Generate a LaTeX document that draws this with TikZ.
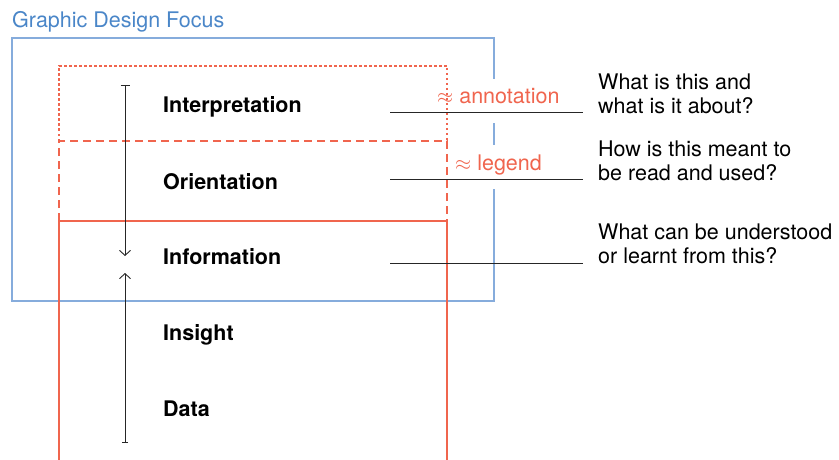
\documentclass[tikz,border=0pt]{standalone}
\usepackage{fontspec}
\setmainfont{TeX Gyre Heros}
\usetikzlibrary{arrows.meta}
\definecolor{focusblue}{HTML}{4A86C8}
\definecolor{frameblue}{HTML}{86ACDC}
\definecolor{framered}{HTML}{F0654E}

\begin{document}
\begin{tikzpicture}[x=1pt, y=-1pt, font=\fontsize{21.5}{23.5}\selectfont,
  layer/.style={anchor=base west, inner sep=0pt, font=\fontsize{21.5}{23.5}\selectfont\bfseries},
  aside/.style={anchor=base west, inner sep=0pt, text=framered, fill=white, text height=25pt, text depth=19pt},
  ask/.style={anchor=north west, inner sep=0pt, align=left},
  lead/.style={draw=black!85, line width=1pt},
  redline/.style={draw=framered, line width=1.6pt}]
  \useasboundingbox (0,0) rectangle (839,460);
  % focus frame and its title
  \node[anchor=base west, inner sep=0pt, text=focusblue] (focus) at (12,28) {Graphic Design Focus};
  \draw[frameblue, line width=1.4pt] (12,38) rectangle (494,301);
  % side labels (white box breaks the blue edge)
  \node[aside] (ann) at (437,104) {$\approx$ annotation};
  \node[aside] (leg) at (455,170) {$\approx$ legend};
  % red frame: dotted, dashed, solid
  \draw[redline, dash pattern=on 2.5pt off 2.5pt] (59,141) -- (59,66) -- (447,66) -- (447,141);
  \draw[redline, dash pattern=on 8pt off 5pt] (59,221) -- (59,141) -- (447,141) -- (447,221);
  \draw[redline] (59,460) -- (59,221) -- (447,221) -- (447,460);
  % layers
  \node[layer] (interp)  at (163,113) {Interpretation};
  \node[layer] (orient)  at (163,189) {Orientation};
  \node[layer] (inform)  at (163,264) {Information};
  \node[layer] (insight) at (163,340) {Insight};
  \node[layer] (data)    at (163,416) {Data};
  % questions
  \node[ask] (q1) at (598,74)  {What is this and\\what is it about?};
  \node[ask] (q2) at (598,141) {How is this meant to\\be read and used?};
  \node[ask] (q3) at (598,224) {What can be understood\\or learnt from this?};
  % leader lines
  \coordinate (a1) at (390,113); \coordinate (b1) at (583,113);
  \coordinate (a2) at (390,179); \coordinate (b2) at (583,179);
  \coordinate (a3) at (390,263); \coordinate (b3) at (583,263);
  \draw[lead] (a1) -- (b1);
  \draw[lead] (a2) -- (b2);
  \draw[lead] (a3) -- (b3);
  % converging arrows
  \coordinate (top) at (125,85);
  \coordinate (mid1) at (125,256);
  \coordinate (mid2) at (125,273);
  \coordinate (bottom) at (125,443);
  \draw[black!85, line width=0.9pt, {Bar[width=9pt]}-{Straight Barb[length=5pt,width=11pt]}] (top) -- (mid1);
  \draw[black!85, line width=0.9pt, {Bar[width=6pt]}-{Straight Barb[length=5pt,width=11pt]}] (bottom) -- (mid2);
\end{tikzpicture}
\end{document}
